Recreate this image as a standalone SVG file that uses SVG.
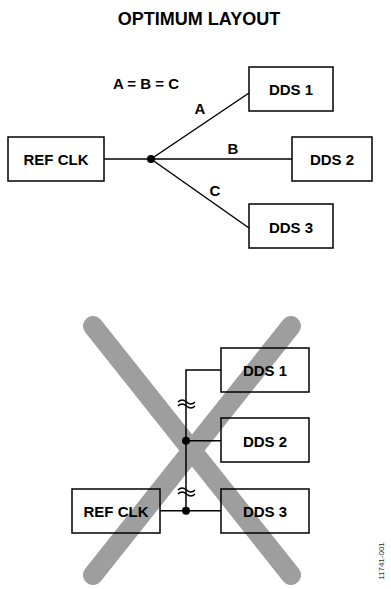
<svg xmlns="http://www.w3.org/2000/svg" width="391" height="589" viewBox="0 0 391 589">
<style>
.box{fill:none;stroke:#000;stroke-width:1.5}
.wire{fill:none;stroke:#000;stroke-width:1.5}
.lbl{font-family:"Liberation Sans",Arial,sans-serif;font-weight:bold;font-size:15px;fill:#000;text-anchor:middle}
.title{font-family:"Liberation Sans",Arial,sans-serif;font-weight:bold;font-size:18px;fill:#000;text-anchor:middle}
.x{stroke:#9e9e9e;stroke-width:20;stroke-linecap:round}
</style>
<rect width="391" height="589" fill="#fff"/>
<text class="title" x="199" y="25">OPTIMUM LAYOUT</text>

<g id="connectors-top">
<line class="wire" x1="104" y1="159" x2="151" y2="159"/>
<line class="wire" x1="151" y1="159" x2="249" y2="93"/>
<line class="wire" x1="151" y1="159" x2="292" y2="159"/>
<line class="wire" x1="151" y1="159" x2="249" y2="228"/>
<circle cx="151" cy="159" r="4" fill="#000"/>
<text class="lbl" x="200" y="114">A</text>
<text class="lbl" x="233" y="154">B</text>
<text class="lbl" x="215" y="196">C</text>
</g>
<text class="lbl" x="146" y="89">A = B = C</text>

<g id="refclk-top"><rect class="box" x="8" y="137" width="96" height="44"/><text class="lbl" x="56" y="165">REF CLK</text></g>
<g id="dds1-top"><rect class="box" x="249" y="67" width="84" height="44"/><text class="lbl" x="291" y="95">DDS 1</text></g>
<g id="dds2-top"><rect class="box" x="292" y="137" width="80" height="44"/><text class="lbl" x="332" y="165">DDS 2</text></g>
<g id="dds3-top"><rect class="box" x="249" y="204" width="84" height="44"/><text class="lbl" x="291" y="233">DDS 3</text></g>

<g id="cross">
<line class="x" x1="93" y1="326" x2="291" y2="575"/>
<line class="x" x1="291" y1="326" x2="93" y2="575"/>
</g>

<g id="connectors-bottom">
<polyline class="wire" points="221,370 186,370 186,510.7"/>
<line class="wire" x1="186" y1="440.7" x2="221" y2="440.7"/>
<line class="wire" x1="160" y1="510.7" x2="221" y2="510.7"/>
<circle cx="186" cy="440.7" r="4" fill="#000"/>
<circle cx="186" cy="510.7" r="4" fill="#000"/>
<path class="wire" d="M178,402 q4,-4 8.5,0 t8.5,0 M178,406 q4,-4 8.5,0 t8.5,0"/>
<path class="wire" d="M178,490 q4,-4 8.5,0 t8.5,0 M178,494 q4,-4 8.5,0 t8.5,0"/>
</g>

<g id="refclk-bottom"><rect class="box" x="72" y="489" width="88" height="44"/><text class="lbl" x="116" y="517">REF CLK</text></g>
<g id="dds1-bottom"><rect class="box" x="221" y="348" width="88" height="44"/><text class="lbl" x="265" y="376">DDS 1</text></g>
<g id="dds2-bottom"><rect class="box" x="221" y="418" width="88" height="44"/><text class="lbl" x="265" y="447">DDS 2</text></g>
<g id="dds3-bottom"><rect class="box" x="221" y="489" width="88" height="44"/><text class="lbl" x="265" y="517">DDS 3</text></g>

<text x="382" y="561" transform="rotate(-90 382 561)" font-family="'Liberation Sans',Arial,sans-serif" font-size="8" fill="#333" text-anchor="middle" dominant-baseline="middle">11741-001</text>
</svg>
